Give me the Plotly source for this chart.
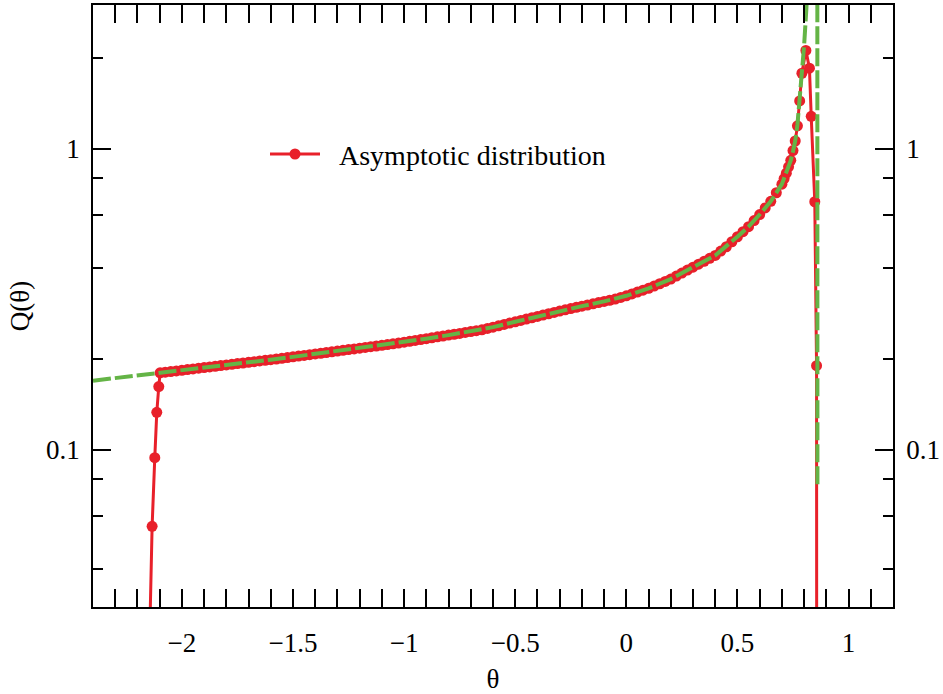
import math
import plotly.graph_objects as go

# ---------------- data ----------------
theta_red = [
    -2.146, -2.134, -2.122, -2.113, -2.104, -2.098,
    -2.075, -2.05, -2.025, -2.0, -1.975, -1.95, -1.925, -1.9, -1.875, -1.85,
    -1.825, -1.8, -1.775, -1.75, -1.725, -1.7, -1.675, -1.65, -1.625, -1.6,
    -1.575, -1.55, -1.525, -1.5, -1.475, -1.45, -1.425, -1.4, -1.375, -1.35,
    -1.325, -1.3, -1.275, -1.25, -1.225, -1.2, -1.175, -1.15, -1.125, -1.1,
    -1.075, -1.05, -1.025, -1.0, -0.975, -0.95, -0.925, -0.9, -0.875, -0.85,
    -0.825, -0.8, -0.775, -0.75, -0.725, -0.7, -0.675, -0.65, -0.625, -0.6,
    -0.575, -0.55, -0.525, -0.5, -0.475, -0.45, -0.425, -0.4, -0.375, -0.35,
    -0.325, -0.3, -0.275, -0.25, -0.225, -0.2, -0.175, -0.15, -0.125, -0.1,
    -0.075, -0.05, -0.025, 0.0, 0.025, 0.05, 0.075, 0.1, 0.125, 0.15,
    0.175, 0.2, 0.225, 0.25, 0.275, 0.3, 0.325, 0.35, 0.375, 0.4,
    0.425, 0.45, 0.475, 0.5, 0.525, 0.55, 0.575, 0.6, 0.625, 0.65,
    0.675, 0.7, 0.71, 0.72, 0.73, 0.74, 0.75, 0.76, 0.77, 0.78,
    0.79, 0.808, 0.824, 0.832, 0.848, 0.856, 0.857,
]
q_red = [
    0.022, 0.0556, 0.094, 0.133, 0.162, 0.180,
    0.1808, 0.1816, 0.1826, 0.1835, 0.1845, 0.1854, 0.1864, 0.1873, 0.1883, 0.1892,
    0.1902, 0.1911, 0.1921, 0.1931, 0.1940, 0.1950, 0.1960, 0.1970, 0.1980, 0.1990,
    0.2000, 0.2011, 0.2022, 0.2033, 0.2045, 0.2056, 0.2067, 0.2079, 0.2090, 0.2102,
    0.2113, 0.2125, 0.2137, 0.2149, 0.2161, 0.2173, 0.2185, 0.2197, 0.2209, 0.2221,
    0.2234, 0.2246, 0.2260, 0.2274, 0.2290, 0.2305, 0.2321, 0.2337, 0.2353, 0.2369,
    0.2385, 0.2401, 0.2417, 0.2433, 0.2450, 0.2467, 0.2483, 0.2500, 0.2526, 0.2552,
    0.2578, 0.2605, 0.2632, 0.2659, 0.2686, 0.2714, 0.2742, 0.2770, 0.2798, 0.2827,
    0.2856, 0.2886, 0.2914, 0.2942, 0.2969, 0.2996, 0.3023, 0.3051, 0.3079, 0.3107,
    0.3135, 0.3164, 0.3204, 0.3244, 0.3290, 0.3338, 0.3386, 0.3435, 0.3495, 0.3557,
    0.3621, 0.3686, 0.3772, 0.386, 0.3948, 0.4038, 0.4130, 0.4224, 0.4320, 0.4417,
    0.4566, 0.472, 0.4904, 0.5096, 0.5296, 0.5504, 0.5766, 0.604, 0.6352, 0.668,
    0.7135, 0.762, 0.795, 0.829, 0.870, 0.914, 0.985, 1.06, 1.19, 1.44,
    1.78, 2.12, 1.85, 1.28, 0.666, 0.19, 0.005,
]

theta_fit_left = [
    -2.4, -2.3, -2.2, -2.1, -2.0, -1.9, -1.8, -1.7, -1.6, -1.5, -1.4, -1.3,
    -1.2, -1.1, -1.0, -0.9, -0.8, -0.7, -0.6, -0.5, -0.4, -0.3, -0.2, -0.1,
    0.0, 0.1, 0.2, 0.3, 0.4, 0.5, 0.55, 0.6, 0.65, 0.7, 0.72, 0.74,
    0.75, 0.76, 0.77, 0.78, 0.79, 0.80, 0.81, 0.82,
]
q_fit_left = [
    0.1694, 0.1727, 0.1762, 0.1797, 0.1835, 0.1873, 0.1911, 0.1950, 0.1990, 0.2033, 0.2079, 0.2125,
    0.2173, 0.2221, 0.2274, 0.2337, 0.2401, 0.2467, 0.2552, 0.2659, 0.2770, 0.2886, 0.2996, 0.3107,
    0.3244, 0.3435, 0.3686, 0.4038, 0.4417, 0.5096, 0.5504, 0.604, 0.668, 0.762, 0.829, 0.914,
    0.98, 1.06, 1.20, 1.44, 1.76, 2.2, 2.9, 4.2,
]
theta_fit_right = [0.8595, 0.860]
q_fit_right = [5.0, 0.0757]

x_tick_vals = [-2, -1.5, -1, -0.5, 0, 0.5, 1]
y_tick_vals = [0.1, 1]
y_tick_text = ["0.1", "1"]
y_minor_vals = [0.04, 0.06, 0.08, 0.2, 0.4, 0.6, 0.8, 2]

# ---------------- styling ----------------
RED = "#E8202A"
GREEN = "#64B446"
FONT = "Liberation Serif"
FS = 27
X_RANGE = [-2.4, 1.2]
Y_RANGE = [math.log10(0.03), math.log10(3)]

fig = go.Figure()

fig.add_trace(go.Scatter(
    x=theta_red, y=q_red,
    mode="lines+markers",
    name="\u00a0\u00a0Asymptotic distribution",
    line=dict(color=RED, width=3),
    marker=dict(color=RED, size=11),
))
fig.add_trace(go.Scatter(
    x=theta_fit_left + [None] + theta_fit_right,
    y=q_fit_left + [None] + q_fit_right,
    mode="lines",
    line=dict(color=GREEN, width=4, dash="18px,4px"),
    showlegend=False, hoverinfo="skip",
))
# invisible trace so the right-hand axis is drawn
fig.add_trace(go.Scatter(
    x=[0], y=[1], yaxis="y2", mode="markers",
    marker=dict(opacity=0), showlegend=False, hoverinfo="skip",
))

axis_common = dict(
    showgrid=False, zeroline=False,
    showline=True, linecolor="black", linewidth=1.5,
    ticks="inside", ticklen=18, tickwidth=1.5, tickcolor="black",
    tickfont=dict(family=FONT, size=FS, color="black"),
    automargin=False,
)

fig.update_layout(
    width=943, height=694,
    margin=dict(l=93, r=50, t=5, b=87),
    paper_bgcolor="white", plot_bgcolor="white",
    font=dict(family=FONT, size=FS, color="black"),
    xaxis=dict(
        **axis_common,
        range=X_RANGE,
        tickmode="array", tickvals=x_tick_vals,
        mirror="allticks",
        minor=dict(ticks="inside", ticklen=10, tickwidth=1.5, tickcolor="black",
                   tickmode="linear", tick0=0, dtick=0.1),
        ticklabelstandoff=11,
        title=dict(text="θ", font=dict(family=FONT, size=FS), standoff=17),
    ),
    yaxis=dict(
        **axis_common,
        type="log", range=Y_RANGE,
        tickmode="array", tickvals=y_tick_vals, ticktext=y_tick_text,
        mirror=True,
        minor=dict(ticks="inside", ticklen=10, tickwidth=1.5, tickcolor="black",
                   tickmode="array", tickvals=y_minor_vals),
        ticklabelstandoff=6,
        title=dict(text="Q(θ)", font=dict(family=FONT, size=FS), standoff=9),
    ),
    yaxis2=dict(
        **axis_common,
        type="log", range=Y_RANGE, overlaying="y", side="right",
        tickmode="array", tickvals=y_tick_vals, ticktext=y_tick_text,
        minor=dict(ticks="inside", ticklen=10, tickwidth=1.5, tickcolor="black",
                   tickmode="array", tickvals=y_minor_vals),
        ticklabelstandoff=6,
    ),
    legend=dict(
        x=0.215, y=0.752, xanchor="left", yanchor="middle",
        bgcolor="rgba(0,0,0,0)", borderwidth=0,
        font=dict(family=FONT, size=28, color="black"),
        itemwidth=50,
    ),
    showlegend=True,
)

fig.write_html("out.html")
